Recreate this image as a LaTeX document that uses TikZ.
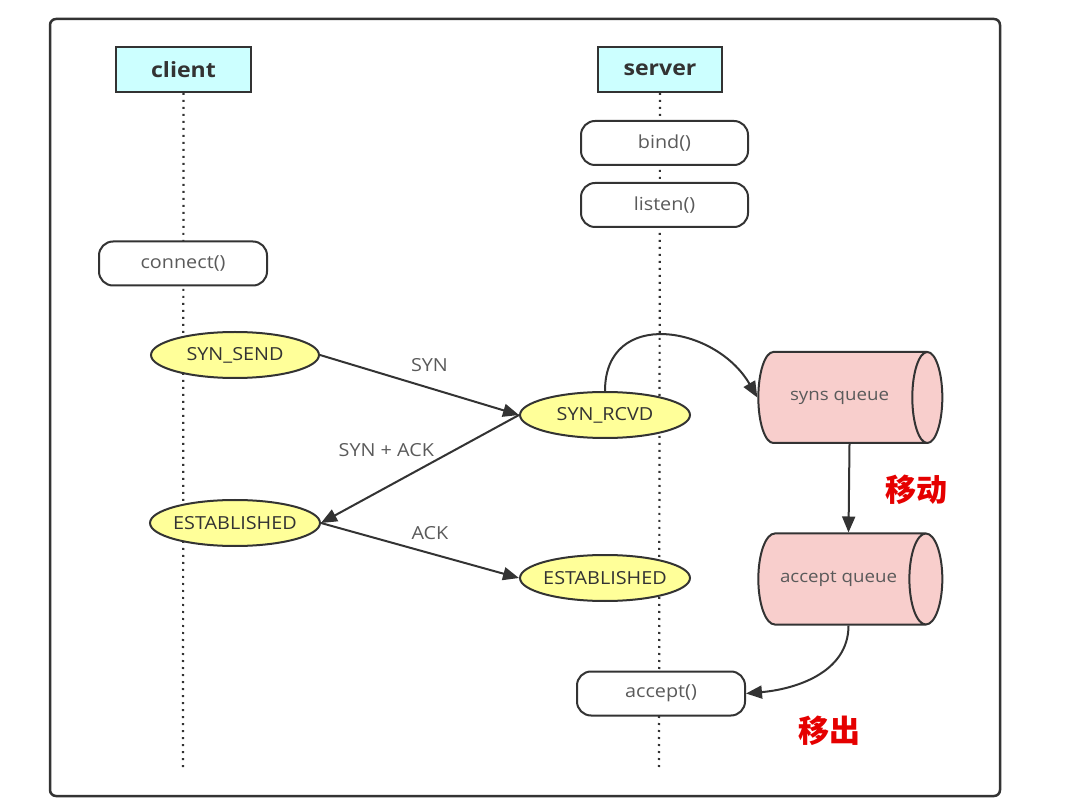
\documentclass[tikz,border=0pt]{standalone}
\usepackage{fontspec}
\setmainfont{Open Sans}[FakeStretch=1.1]
\newfontfamily\cjkfont{Noto Sans CJK SC}
\usepackage{xcolor}
\definecolor{headcyan}{RGB}{204, 255, 255}
\definecolor{stateyellow}{RGB}{255, 255, 153}
\definecolor{queuepink}{RGB}{248, 206, 204}
\definecolor{linegray}{RGB}{51, 51, 51}
\definecolor{textgray}{RGB}{90, 90, 90}
\usetikzlibrary{shapes.geometric, arrows.meta, positioning, calc}

\begin{document}
\begin{tikzpicture}[x=1pt, y=-1pt, >={Triangle[length=16pt, width=13pt]}]

        % Estilos
        \tikzstyle{head} = [rectangle, draw=linegray, line width=2pt, fill=headcyan, minimum height=45pt, font=\bfseries\fontsize{21}{24}\selectfont, text=linegray]
        \tikzstyle{call} = [rectangle, draw=linegray, line width=2pt, fill=white, rounded corners=14pt, minimum width=167pt, minimum height=44pt, font=\fontsize{18}{21}\selectfont, text=textgray]
        \tikzstyle{state} = [ellipse, draw=linegray, line width=2pt, fill=stateyellow, minimum width=170pt, minimum height=46pt, inner xsep=-12pt, inner ysep=0pt, font=\fontsize{18}{21}\selectfont, text=linegray]
        \tikzstyle{queue} = [cylinder, draw=linegray, line width=2pt, fill=queuepink, aspect=1.5, minimum width=91pt, minimum height=184pt, font=\fontsize{17}{20}\selectfont, text=textgray]
        \tikzstyle{lifeline} = [draw=linegray, line width=2.2pt, dash pattern=on 2pt off 5pt]
        \tikzstyle{msg} = [->, draw=linegray, line width=2pt]
        \tikzstyle{lbl} = [font=\fontsize{18}{21}\selectfont, text=textgray]
        \tikzstyle{note} = [font=\cjkfont\bfseries\fontsize{31}{34}\selectfont, text=red!90!black]

        \useasboundingbox (0,0) rectangle (1069,799);

        % Moldura
        \draw [draw=linegray, line width=2.5pt, rounded corners=6pt] (50,19) rectangle (1000,796);

        % Cabeçalhos e linhas de vida
        \node [head, minimum width=135pt] (client) at (183.5,69.5) {client};
        \node [head, minimum width=124pt] (server) at (660,69.5) {server};
        \coordinate (clientend) at (183,768);
        \coordinate (serverend) at (659,768);
        \draw [lifeline] (client.south) -- (clientend);
        \draw [lifeline] (server.south) -- (serverend);

        % Chamadas
        \node [call] (bind) at (664.5,143) {bind()};
        \node [call, below=16pt of bind] (listen) {listen()};
        \node [call, minimum width=168pt] (connect) at (183,263.5) {connect()};
        \node [call, minimum width=168pt] (accept) at (661,693.5) {accept()};

        % Estados
        \node [state, minimum width=168pt] (synsend) at (235,355) {SYN\_SEND};
        \node [state] (synrcvd) at (605,415) {SYN\_RCVD};
        \node [state] (estclient) at (235,523) {ESTABLISHED};
        \node [state] (estserver) at (605,578) {ESTABLISHED};

        % Filas
        \node [queue] (synsq) at (839.5,397.5) {syns queue};
        \node [queue] (acceptq) at (838.5,579) {accept queue};

        % Mensagens do handshake
        \draw [msg] (synsend.east) -- node[lbl, pos=0.55, above=12pt] {SYN} (synrcvd.west);
        \draw [msg] (synrcvd.west) -- node[lbl, pos=0.67, above=26pt] {SYN + ACK} (estclient.east);
        \draw [msg] (estclient.east) -- node[lbl, pos=0.55, above=9pt] {ACK} (estserver.west);

        % Movimento entre filas
        \draw [msg] (synrcvd.north) to[out=90, in=120, looseness=1.4] (synsq.west);
        \draw [msg] ([xshift=10pt]synsq.south) -- ([xshift=10pt]acceptq.north);
        \draw [msg] ([xshift=10pt]acceptq.south) to[out=-90, in=5] (accept.east);

        \node [note] (move) at (916,490) {移动};
        \node [note] (out) at (829,731) {移出};
    \end{tikzpicture}
\end{document}
